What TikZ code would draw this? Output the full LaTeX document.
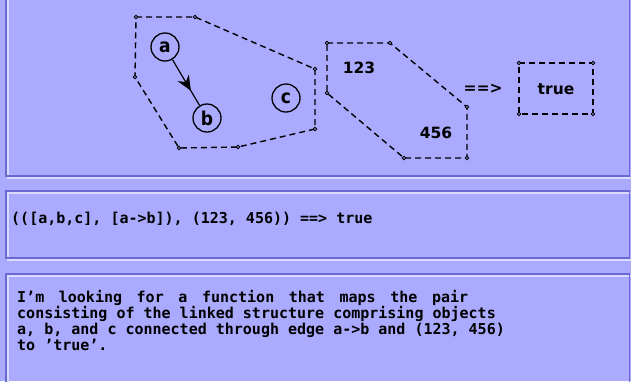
\documentclass[tikz,border=0pt]{standalone}
\usepackage{fontspec}
\usetikzlibrary{arrows.meta,decorations.markings}
\newfontfamily\codefont{DejaVu Sans Mono}
\newfontfamily\labfont{DejaVu Sans}
\newfontfamily\circfont{DejaVu Sans Condensed}
\definecolor{bg}{RGB}{170,170,255}
\definecolor{edark}{RGB}{105,105,210}
\definecolor{elight}{RGB}{218,218,255}
\tikzset{
  darkedge/.style={draw=edark,line width=1.6pt},
  lightedge/.style={draw=elight,line width=1.5pt},
  hull/.style={draw=black,line width=1.4pt,dash pattern=on 6pt off 4pt,line join=round},
  vmark/.style={draw=black,fill=bg,line width=0.8pt},
  objnode/.style={circle,draw=black,line width=1.3pt,minimum size=28pt,inner sep=0pt,font=\circfont\bfseries\fontsize{19}{19}\selectfont},
  lab/.style={inner sep=0pt,font=\labfont\bfseries\fontsize{15.5}{16}\selectfont},
  codetext/.style={inner sep=0pt,align=left,font=\codefont\bfseries\fontsize{15}{16}\selectfont},
  edgearrow/.style={draw=black,line width=1.2pt,postaction={decorate},
    decoration={markings,mark=at position 0.68 with {\arrow{Stealth[length=15pt,width=13pt,inset=5pt]}}}}
}
\begin{document}
\begin{tikzpicture}[x=1pt,y=-1pt]
\useasboundingbox (0,0) rectangle (631,381);
\fill[bg] (0,0) rectangle (631,381);
% etched panels
\draw[lightedge] (8,-5) rectangle (632,178);
\draw[darkedge] (6,-5) rectangle (629.5,176);
\draw[lightedge] (8,193) rectangle (632,260);
\draw[darkedge] (6,191) rectangle (629.5,258);
\draw[lightedge] (8,276) rectangle (632,392);
\draw[darkedge] (6,274) rectangle (629.5,390);
% hull 1
\coordinate (p1) at (136,17);
\coordinate (p2) at (195,17);
\coordinate (p3) at (315,69);
\coordinate (p4) at (315,129);
\coordinate (p5) at (238,147);
\coordinate (p6) at (179,148);
\coordinate (p7) at (135,77);
\draw[hull] (p1) -- (p2) -- (p3) -- (p4) -- (p5) -- (p6) -- (p7) -- cycle;
\foreach \p in {p1,p2,p3,p4,p5,p6,p7} \draw[vmark] (\p) circle (1.7pt);
% hull 2
\coordinate (q1) at (327,43);
\coordinate (q2) at (390,43);
\coordinate (q3) at (467,107);
\coordinate (q4) at (467,158);
\coordinate (q5) at (404,158);
\coordinate (q6) at (327,93);
\draw[hull] (q1) -- (q2) -- (q3) -- (q4) -- (q5) -- (q6) -- cycle;
\foreach \p in {q1,q2,q3,q4,q5,q6} \draw[vmark] (\p) circle (1.7pt);
% result box
\coordinate (r1) at (519,63);
\coordinate (r2) at (593,63);
\coordinate (r3) at (593,114);
\coordinate (r4) at (519,114);
\draw[hull] (r1) -- (r2) -- (r3) -- (r4) -- cycle;
\foreach \p in {r1,r2,r3,r4} \draw[vmark] (\p) circle (1.7pt);
% objects
\node[objnode] (a) at (165,47) {a};
\node[objnode] (b) at (207,118) {b};
\node[objnode] (c) at (286,98) {c};
\draw[edgearrow] (a) -- (b);
% labels
\node[lab] (n123) at (359,68) {123};
\node[lab] (n456) at (436,133) {456};
\node[lab] (imp) at (483,89) {==>};
\node[lab] (tru) at (556,89) {true};
% middle text
\node[codetext,anchor=base west] (expr) at (11,223) {(([a,b,c], [a->b]), (123, 456)) ==> true};
% bottom text (base = baseline of last line)
\node[codetext,anchor=base west] (desc) at (17,350) {\makebox[451pt][l]{I’m\hfill looking\hfill for\hfill a\hfill function\hfill that\hfill maps\hfill the\hfill pair}\\
consisting of the linked structure comprising objects\\
a, b, and c connected through edge a->b and (123, 456)\\
to ’true’.};
\end{tikzpicture}
\end{document}
